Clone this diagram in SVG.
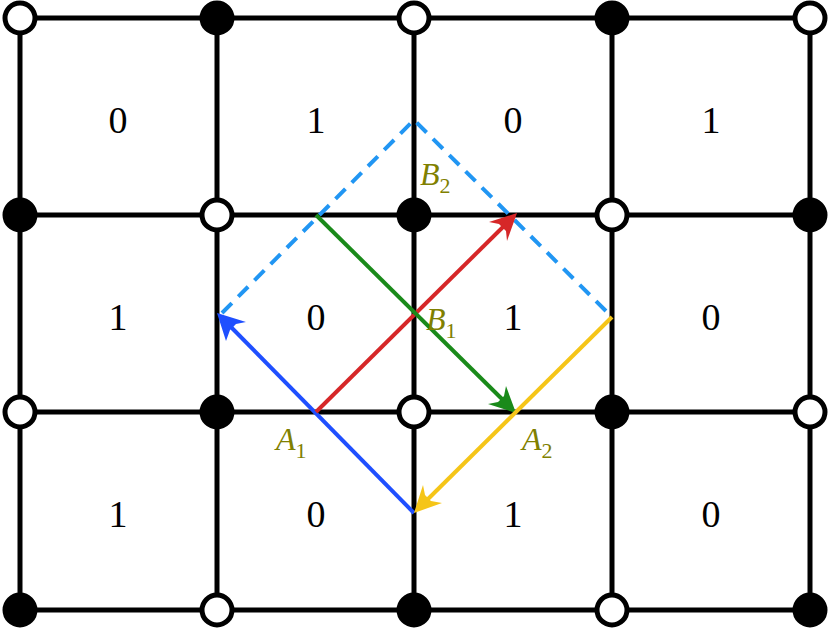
<svg xmlns="http://www.w3.org/2000/svg" width="830" height="633" viewBox="0 0 830 633">
<defs>
<style>
.g{stroke:#000;stroke-width:5;fill:none}
.o{fill:#fff;stroke:#000;stroke-width:5}
.f{fill:#000;stroke:#000;stroke-width:5}
.n{font-family:"Liberation Serif",serif;font-size:38px;text-anchor:middle;fill:#000}
.l{font-family:"Liberation Serif",serif;font-size:32px;font-style:italic;fill:#808000}
.s{font-size:22px;font-style:normal}
</style>
<marker id="mr" viewBox="0 0 10 10" refX="9" refY="5" markerWidth="6" markerHeight="6" orient="auto" markerUnits="userSpaceOnUse" style="overflow:visible"><path d="M0,0 L10,5 L0,10 L3,5 Z" fill="#d62728" transform="scale(3.2) translate(-7,-5) translate(0,0)"/></marker>
</defs>
<rect width="830" height="633" fill="#fff"/>
<g id="grid" class="g">
<path d="M20,18V610M217,18V610M414,18V610M612,18V610M810,18V610M20,18H810M20,215H810M20,412H810M20,610H810"/>
</g>
<g id="numbers">
<text class="n" x="118" y="133">0</text><text class="n" x="316" y="133">1</text><text class="n" x="513" y="133">0</text><text class="n" x="711" y="133">1</text>
<text class="n" x="118" y="330">1</text><text class="n" x="316" y="330">0</text><text class="n" x="513" y="330">1</text><text class="n" x="711" y="330">0</text>
<text class="n" x="118" y="527">1</text><text class="n" x="316" y="527">0</text><text class="n" x="513" y="527">1</text><text class="n" x="711" y="527">0</text>
</g>
<g id="connectors" stroke-width="4" fill="none">
<path d="M222,313 L414,120 L612,317" stroke="#2196f3" stroke-dasharray="14,9"/>
<path d="M414,513 L228,324" stroke="#1f4fff"/>
<path d="M414,513 L217,313 M217,313 l27,8 l-10,-2 l-7,-7 l-2,-10 z" stroke="none"/>
<polygon points="217,313 246,322 236,324 230,330 226,341" fill="#1f4fff"/>
<path d="M316,412 L506,224" stroke="#d62728"/>
<polygon points="517,213 507,241 506,231 499,224 489,222" fill="#d62728"/>
<path d="M316,215 L505,402" stroke="#1a8a1a"/>
<polygon points="516,413 488,404 498,402 504,396 506,386" fill="#1a8a1a"/>
<path d="M612,317 L424,503" stroke="#f5c518"/>
<polygon points="414,513 423,485 425,495 431,501 442,503" fill="#f5c518"/>
</g>
<g id="dots">
<circle class="o" cx="20" cy="18" r="15"/><circle class="f" cx="217" cy="18" r="15"/><circle class="o" cx="414" cy="18" r="15"/><circle class="f" cx="612" cy="18" r="15"/><circle class="o" cx="810" cy="18" r="15"/>
<circle class="f" cx="20" cy="215" r="15"/><circle class="o" cx="217" cy="215" r="15"/><circle class="f" cx="414" cy="215" r="15"/><circle class="o" cx="612" cy="215" r="15"/><circle class="f" cx="810" cy="215" r="15"/>
<circle class="o" cx="20" cy="412" r="15"/><circle class="f" cx="217" cy="412" r="15"/><circle class="o" cx="414" cy="412" r="15"/><circle class="f" cx="612" cy="412" r="15"/><circle class="o" cx="810" cy="412" r="15"/>
<circle class="f" cx="20" cy="610" r="15"/><circle class="o" cx="217" cy="610" r="15"/><circle class="f" cx="414" cy="610" r="15"/><circle class="o" cx="612" cy="610" r="15"/><circle class="f" cx="810" cy="610" r="15"/>
</g>
<g id="labels">
<text class="l" x="420" y="185">B<tspan class="s" dy="8">2</tspan></text>
<text class="l" x="426" y="330">B<tspan class="s" dy="8">1</tspan></text>
<text class="l" x="276" y="450">A<tspan class="s" dy="8">1</tspan></text>
<text class="l" x="522" y="450">A<tspan class="s" dy="8">2</tspan></text>
</g>
</svg>
